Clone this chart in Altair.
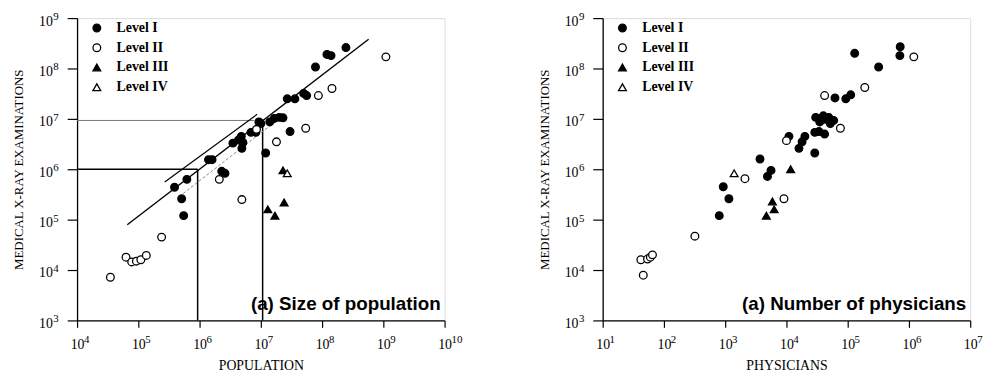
import altair as alt
import pandas as pd

levels = ["Level I", "Level II", "Level III", "Level IV"]

# ---- Panel (a): size of population ----
pop_l1_x = [3.9e5, 6.2e5, 5.1e5, 5.5e5, 1.4e6, 1.6e6, 2.3e6, 2.6e6, 3.5e6, 4.3e6, 4.8e6,
            5.1e6, 4.9e6, 6.9e6, 8.3e6, 9.3e6, 1.0e7, 1.4e7, 1.66e7, 2.0e7, 2.3e7, 1.2e7,
            3.0e7, 2.7e7, 3.6e7, 5.0e7, 5.6e7, 7.8e7, 1.2e8, 1.4e8, 2.45e8]
pop_l1_y = [4.4e5, 6.3e5, 2.6e5, 1.2e5, 1.55e6, 1.55e6, 9.1e5, 8.3e5, 3.3e6, 3.8e6, 4.5e6,
            3.4e6, 2.6e6, 5.4e6, 5.4e6, 8.7e6, 8.1e6, 8.7e6, 1.02e7, 1.07e7, 1.05e7, 2.1e6,
            5.6e6, 2.5e7, 2.5e7, 3.2e7, 2.9e7, 1.07e8, 1.9e8, 1.8e8, 2.6e8]
pop_l2_x = [3.5e4, 6.3e4, 7.8e4, 9.3e4, 1.1e5, 1.35e5, 2.4e5, 2.1e6, 4.9e6, 8.5e6, 1.8e7,
            5.4e7, 8.7e7, 1.45e8, 1.1e9]
pop_l2_y = [7.2e3, 1.8e4, 1.45e4, 1.5e4, 1.6e4, 1.95e4, 4.5e4, 6.3e5, 2.5e5, 6.2e6, 3.5e6,
            6.5e6, 2.9e7, 4.0e7, 1.7e8]
pop_l3_x = [2.3e7, 2.4e7, 1.3e7, 1.7e7]
pop_l3_y = [9.5e5, 2.2e5, 1.6e5, 1.2e5]
pop_l4_x = [2.7e7]
pop_l4_y = [8.3e5]

# regression line and bands (end points)
fit_main_x = [6.6e4, 5.75e8]
fit_main_y = [7.9e4, 3.8e8]
fit_upper_x = [2.7e5, 8.7e6]
fit_upper_y = [5.6e5, 1.23e7]
fit_lower_x = [5.4e5, 1.74e7]
fit_lower_y = [3.3e5, 8.9e6]
# guide lines
guide_dark_x = [1e4, 9.3e5, 1.07e7]
guide_dark_x2 = [9.3e5, 9.3e5, 1.07e7]
guide_dark_y = [1e6, 1e6, 8.3e6]
guide_dark_y2 = [1e6, 1e3, 1e3]
guide_light_x = [1e4]
guide_light_x2 = [7.8e6]
guide_light_y = [9.3e6]
guide_light_y2 = [9.3e6]

# ---- Panel (a): number of physicians ----
phy_l1_x = [930, 1150, 800, 3700, 4900, 5600, 1.1e4, 1.6e4, 1.8e4, 2.0e4, 2.9e4, 2.9e4,
            3.4e4, 4.2e4, 3.0e4, 3.5e4, 4.3e4, 4.9e4, 5.9e4, 5.2e4, 4.0e4, 6.2e4, 9.3e4,
            1.12e5, 1.3e5, 3.2e5, 7.1e5, 7.2e5]
phy_l1_y = [4.5e5, 2.6e5, 1.2e5, 1.6e6, 7.2e5, 9.5e5, 4.5e6, 2.6e6, 3.5e6, 4.5e6, 2.1e6, 5.4e6,
            5.6e6, 5.0e6, 1.07e7, 8.7e6, 9.8e6, 1.07e7, 9.3e6, 8.1e6, 1.15e7, 2.6e7, 2.5e7,
            3.0e7, 2.0e8, 1.07e8, 1.8e8, 2.7e8]
phy_l2_x = [46, 42, 54, 60, 65, 320, 2100, 9100, 1.0e4, 4.2e4, 7.6e4, 1.9e5, 1.2e6]
phy_l2_y = [7.9e3, 1.6e4, 1.65e4, 1.8e4, 2.0e4, 4.7e4, 6.5e5, 2.6e5, 3.7e6, 2.9e7, 6.5e6,
            4.2e7, 1.7e8]
phy_l3_x = [5900, 6300, 4700, 1.17e4]
phy_l3_y = [2.3e5, 1.6e5, 1.2e5, 1.0e6]
phy_l4_x = [1400]
phy_l4_y = [8.3e5]

# tick labels: base "10" plus exponent
y_ticks = [1e3, 1e4, 1e5, 1e6, 1e7, 1e8, 1e9]
y_tick_exp = ["3", "4", "5", "6", "7", "8", "9"]
pop_ticks = [1e4, 1e5, 1e6, 1e7, 1e8, 1e9, 1e10]
pop_tick_exp = ["4", "5", "6", "7", "8", "9", "10"]
phy_ticks = [1e1, 1e2, 1e3, 1e4, 1e5, 1e6, 1e7]
phy_tick_exp = ["1", "2", "3", "4", "5", "6", "7"]
tick_base = "10"

W, H = 372, 306
SERIF = "Liberation Serif"


def points(groups):
    rows = []
    for lvl, xs, ys in groups:
        for a, b in zip(xs, ys):
            rows.append({"x": a, "y": b, "level": lvl})
    return pd.DataFrame(rows)


def segs(x, x2, y, y2):
    return pd.DataFrame({"x": x, "x2": x2, "y": y, "y2": y2})


def panel(pts, xdomain, xticks, xexp, xtitle, annot, seg_layers):
    xscale = alt.Scale(type="log", domain=xdomain)
    yscale = alt.Scale(type="log", domain=[1e3, 1e9])
    xaxis = alt.Axis(values=xticks, labelExpr=f"'{tick_base}'", title=xtitle,
                     grid=False, tickSize=7, tickColor="black", tickWidth=1.2,
                     domainColor="black", domainWidth=1.3, labelFont=SERIF, labelFontSize=14,
                     labelColor="black", labelPadding=10, labelFlush=False,
                     labelOverlap=False, titleFont=SERIF, titleFontSize=14,
                     titleFontWeight="normal", titleColor="black", titlePadding=8)
    yaxis = alt.Axis(values=y_ticks, labelExpr=f"'{tick_base}'",
                     title="MEDICAL X-RAY EXAMINATIONS", grid=False, tickSize=10,
                     tickColor="black", tickWidth=1.2, domainColor="black", domainWidth=1.3,
                     labelFont=SERIF, labelFontSize=14, labelColor="black", labelPadding=15,
                     labelOffset=3, labelFlush=False, labelOverlap=False,
                     titleFont=SERIF, titleFontSize=13, titleFontWeight="normal",
                     titleColor="black", titlePadding=13)
    X = alt.X("x:Q", scale=xscale, axis=xaxis)
    Y = alt.Y("y:Q", scale=yscale, axis=yaxis)
    leg = alt.Legend(orient="none", legendX=13, legendY=3, labelFont=SERIF, labelFontSize=14,
                     labelFontWeight="bold", labelColor="black", symbolStrokeWidth=1.3,
                     labelOffset=13, rowPadding=6, padding=0)
    pts_layer = alt.Chart(pts).mark_point(filled=True, opacity=1, strokeWidth=1.3).encode(
        x=X, y=Y,
        shape=alt.Shape("level:N", title=None, legend=leg,
                        scale=alt.Scale(domain=levels,
                                        range=["circle", "circle", "triangle-up", "triangle-up"])),
        fill=alt.Fill("level:N", title=None, legend=leg,
                      scale=alt.Scale(domain=levels, range=["black", "white", "black", "white"])),
        stroke=alt.Stroke("level:N", title=None, legend=leg,
                          scale=alt.Scale(domain=levels,
                                          range=["black", "black", "black", "black"])),
        size=alt.Size("level:N", title=None, legend=leg,
                      scale=alt.Scale(domain=levels, range=[60, 62, 95, 95])),
    )
    layers = []
    for df, color, width, dash in seg_layers:
        kw = dict(color=color, strokeWidth=width)
        if dash:
            kw["strokeDash"] = dash
        layers.append(alt.Chart(df).mark_rule(**kw).encode(
            x=X, y=Y, x2=alt.X2("x2:Q"), y2=alt.Y2("y2:Q")))
    # exponents of the x tick labels
    xe = alt.Chart(pd.DataFrame({"v": xticks, "e": xexp})).mark_text(
        align="left", baseline="alphabetic", font=SERIF, fontSize=11, color="black",
        dx=7).encode(x=alt.X("v:Q", scale=xscale, axis=xaxis), y=alt.value(H + 23),
                     text="e:N")
    # exponents of the y tick labels
    ye = alt.Chart(pd.DataFrame({"v": y_ticks, "e": y_tick_exp})).mark_text(
        align="left", baseline="alphabetic", font=SERIF, fontSize=11, color="black",
        dy=2).encode(x=alt.value(-24), y=alt.Y("v:Q", scale=yscale, axis=yaxis),
                     text="e:N")
    txt = alt.Chart(pd.DataFrame({"t": [annot]})).mark_text(
        align="right", baseline="alphabetic", font="Liberation Sans", fontWeight="bold",
        fontSize=19, color="black").encode(
        x=alt.value(W - 4), y=alt.value(H - 11), text="t:N")
    return alt.layer(*layers, pts_layer, txt, xe, ye).properties(width=W, height=H)


left_pts = points([(levels[0], pop_l1_x, pop_l1_y), (levels[1], pop_l2_x, pop_l2_y),
                   (levels[2], pop_l3_x, pop_l3_y), (levels[3], pop_l4_x, pop_l4_y)])
right_pts = points([(levels[0], phy_l1_x, phy_l1_y), (levels[1], phy_l2_x, phy_l2_y),
                    (levels[2], phy_l3_x, phy_l3_y), (levels[3], phy_l4_x, phy_l4_y)])

left_segs = [
    (segs(guide_light_x, guide_light_x2, guide_light_y, guide_light_y2), "#777777", 1.0, None),
    (segs(guide_dark_x, guide_dark_x2, guide_dark_y, guide_dark_y2), "black", 1.5, None),
    (segs([fit_lower_x[0]], [fit_lower_x[1]], [fit_lower_y[0]], [fit_lower_y[1]]),
     "#888888", 1.0, [3, 2]),
    (segs([fit_upper_x[0]], [fit_upper_x[1]], [fit_upper_y[0]], [fit_upper_y[1]]),
     "black", 1.2, None),
    (segs([fit_main_x[0]], [fit_main_x[1]], [fit_main_y[0]], [fit_main_y[1]]),
     "black", 1.4, None),
]

left = panel(left_pts, [1e4, 1e10], pop_ticks, pop_tick_exp, "POPULATION",
             "(a) Size of population", left_segs)
right = panel(right_pts, [1e1, 1e7], phy_ticks, phy_tick_exp, "PHYSICIANS",
              "(a) Number of physicians", [])

chart = alt.hconcat(left, right, spacing=75).resolve_scale(
    x="independent", y="independent", shape="independent", fill="independent",
    stroke="independent", size="independent"
).resolve_legend(shape="independent", fill="independent", stroke="independent",
                 size="independent").properties(
    padding={"left": 12, "top": 8, "right": 5, "bottom": 5}
).configure_view(stroke=None).configure(background="white")

chart.save("out.html", embed_options={"renderer": "svg", "actions": False})
